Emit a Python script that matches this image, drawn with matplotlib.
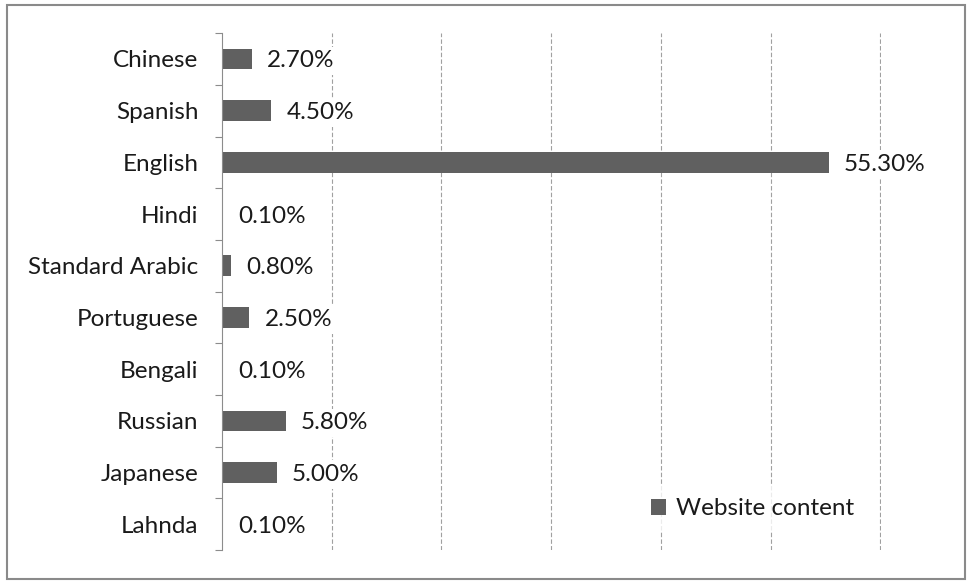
import matplotlib

matplotlib.use("Agg")
import matplotlib.pyplot as plt
from matplotlib.patches import Rectangle

# Share of website content by language (percent)
LANGUAGES = [
    "Chinese", "Spanish", "English", "Hindi", "Standard Arabic",
    "Portuguese", "Bengali", "Russian", "Japanese", "Lahnda",
]
WEBSITE_CONTENT = [2.7, 4.5, 55.3, 0.1, 0.8, 2.5, 0.1, 5.8, 5.0, 0.1]
X_GRID = [10, 20, 30, 40, 50, 60]

BAR_COLOR = "#606060"
AXIS_COLOR = "#8c8c8c"
GRID_COLOR = "#a0a0a0"
TEXT_COLOR = "#1a1a1a"
FONT_SIZE = 17.5

plt.rcParams["font.family"] = ["Lato", "DejaVu Sans"]

fig = plt.figure(figsize=(9.69, 5.81), dpi=100)
ax = fig.add_axes([0.229, 0.053, 0.680, 0.890])

n = len(LANGUAGES)
ypos = list(range(n))
ax.barh(ypos, WEBSITE_CONTENT, height=0.4, color=BAR_COLOR,
        label="Website content", zorder=2)

for y, v in zip(ypos, WEBSITE_CONTENT):
    ax.annotate(f"{v:.2f}%", xy=(v, y), xytext=(11, 0), textcoords="offset points",
                va="center_baseline", ha="left", fontsize=FONT_SIZE, color=TEXT_COLOR,
                zorder=4, bbox=dict(boxstyle="square,pad=0.15", fc="white", ec="none"))

ax.set_xlim(0, 60.05)
ax.set_ylim(n - 0.5, -0.5)
ax.set_xticks(X_GRID)
ax.tick_params(axis="x", length=0, labelbottom=False)
ax.grid(axis="x", color=GRID_COLOR, linestyle=(0, (4, 2)), linewidth=0.8, zorder=0)

ax.set_yticks(ypos)
ax.set_yticklabels(LANGUAGES, fontsize=FONT_SIZE, color=TEXT_COLOR)
ax.tick_params(axis="y", which="major", length=0, pad=17)
ax.set_yticks([i - 0.5 for i in range(n + 1)], minor=True)
ax.tick_params(axis="y", which="minor", length=5, width=0.8, color=AXIS_COLOR)

for side in ("top", "right", "bottom"):
    ax.spines[side].set_visible(False)
ax.spines["left"].set_color(AXIS_COLOR)
ax.spines["left"].set_linewidth(0.8)

leg = ax.legend(loc="center left", bbox_to_anchor=(0.614, 0.08), frameon=True,
                fontsize=FONT_SIZE, handlelength=0.62, handleheight=0.62,
                handletextpad=0.4, borderpad=0.5, fancybox=False)
leg.get_frame().set_facecolor("white")
leg.get_frame().set_edgecolor("none")
for t in leg.get_texts():
    t.set_color(TEXT_COLOR)

# Outer chart border
fig.patches.append(Rectangle((0.007, 0.004), 0.989, 0.988, transform=fig.transFigure,
                             fill=False, edgecolor="#8a8a8a", linewidth=1.5))

fig.savefig("out.png", dpi=100)
